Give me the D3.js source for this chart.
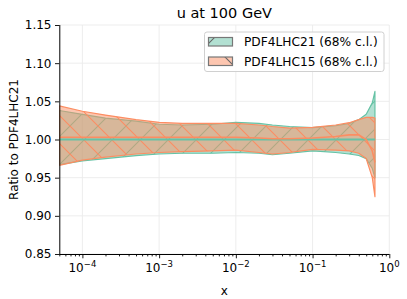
<!DOCTYPE html>
<html>
<head>
<meta charset="utf-8">
<script src="https://cdn.jsdelivr.net/npm/d3@7"></script>
<style>
  body { margin: 0; background: white; }
  text { font-family: "DejaVu Sans", sans-serif; }
</style>
</head>
<body>
<div id="chart"></div>
<script>
// values
var xs    = [5e-5, 1e-4, 2e-4, 5e-4, 1e-3, 2e-3, 5e-3, 1e-2, 2e-2, 3e-2, 5e-2, 0.1, 0.2, 0.3, 0.4, 0.5, 0.6, 0.65];
var hi21  = [1.038, 1.033, 1.028, 1.024, 1.020, 1.019, 1.020, 1.0225, 1.021, 1.019, 1.017, 1.0155, 1.018, 1.021, 1.026, 1.033, 1.048, 1.063];
var lo21  = [0.967, 0.972, 0.975, 0.979, 0.981, 0.982, 0.982, 0.983, 0.982, 0.980, 0.982, 0.985, 0.983, 0.981, 0.979, 0.975, 0.962, 0.950];
var mid21 = [1, 1, 1, 1, 1, 1, 1, 1, 1, 1, 1, 1, 1, 1, 1, 1, 1, 1];
var hi15  = [1.044, 1.037, 1.032, 1.026, 1.0225, 1.021, 1.021, 1.021, 1.019, 1.017, 1.015, 1.016, 1.019, 1.022, 1.026, 1.029, 1.029, 1.028];
var lo15  = [0.966, 0.973, 0.977, 0.981, 0.983, 0.984, 0.985, 0.986, 0.983, 0.981, 0.983, 0.987, 0.986, 0.985, 0.982, 0.975, 0.950, 0.925];
var mid15 = [1.003, 1.003, 1.003, 1.003, 1.003, 1.003, 1.003, 1.003, 1.002, 1.001, 1.001, 1.002, 1.004, 1.006, 1.006, 1.000, 0.985, 0.970];

var yTicks = [0.85, 0.90, 0.95, 1.00, 1.05, 1.10, 1.15];
var xTicks = [1e-4, 1e-3, 1e-2, 1e-1, 1];
var xTickLabels = ["\u22124", "\u22123", "\u22122", "\u22121", "0"];
var seriesNames = ["PDF4LHC21 (68% c.l.)", "PDF4LHC15 (68% c.l.)"];

var green = "#66c2a5", orange = "#fc8d62";

var W = 407, H = 299;
// careful: "top" is taken by window.top
var pL = 59.3, pR = 389.3, pT = 25, pB = 254;

var svg = d3.select("#chart").append("svg")
  .attr("width", W).attr("height", H);

var x = d3.scaleLog().domain([5e-5, 1]).range([pL, pR]);
var y = d3.scaleLinear().domain([0.85, 1.15]).range([pB, pT]);

var defs = svg.append("defs");
defs.append("clipPath").attr("id", "clip")
  .append("rect").attr("x", pL).attr("y", pT)
  .attr("width", pR - pL).attr("height", pB - pT);

// hatch patterns, '/' for 21 and '\' for 15
function hatch(id, color, dir, w) {
  var s = 28;
  var p = defs.append("pattern").attr("id", id)
    .attr("patternUnits", "userSpaceOnUse")
    .attr("width", s).attr("height", s);
  var d = dir == "/" ?
    "M-2,2 L2,-2 M0," + s + " L" + s + ",0 M" + (s - 2) + "," + (s + 2) + " L" + (s + 2) + "," + (s - 2) :
    "M-2," + (s - 2) + " L2," + (s + 2) + " M0,0 L" + s + "," + s + " M" + (s - 2) + ",-2 L" + (s + 2) + ",2";
  p.append("path").attr("d", d).attr("stroke", color).attr("stroke-width", w).attr("fill", "none");
}
hatch("h21", green, "/", 1.1);
hatch("h15", orange, "\\", 1.1);
hatch("h21leg", "#666", "/", 1.1);
hatch("h15leg", "#666", "\\", 1.1);

// grid
svg.append("g").selectAll("line").data(yTicks).join("line")
  .attr("x1", pL).attr("x2", pR)
  .attr("y1", function(d) { return y(d); }).attr("y2", function(d) { return y(d); })
  .attr("stroke", "#ebebeb").attr("stroke-width", 0.9);
svg.append("g").selectAll("line").data(xTicks).join("line")
  .attr("x1", function(d) { return x(d); }).attr("x2", function(d) { return x(d); })
  .attr("y1", pT).attr("y2", pB)
  .attr("stroke", "#ebebeb").attr("stroke-width", 0.9);

var plot = svg.append("g").attr("clip-path", "url(#clip)");

var area = function(lo, hi) {
  return d3.area()
    .x(function(d, i) { return x(xs[i]); })
    .y0(function(d, i) { return y(lo[i]); })
    .y1(function(d, i) { return y(hi[i]); })(xs);
};
var line = function(v) {
  return d3.line()
    .x(function(d, i) { return x(xs[i]); })
    .y(function(d, i) { return y(v[i]); })(xs);
};

// bands
function band(lo, hi, color, pat) {
  var d = area(lo, hi);
  plot.append("path").attr("d", d).attr("fill", color).attr("fill-opacity", 0.5);
  plot.append("path").attr("d", d).attr("fill", "url(#" + pat + ")");
  plot.append("path").attr("d", d).attr("fill", "none")
    .attr("stroke", color).attr("stroke-width", 1.2).attr("stroke-linejoin", "round");
}
band(lo21, hi21, green, "h21");
band(lo15, hi15, orange, "h15");

// central lines
plot.append("path").attr("d", line(mid21)).attr("fill", "none")
  .attr("stroke", green).attr("stroke-width", 2.2);
plot.append("path").attr("d", line(mid15)).attr("fill", "none")
  .attr("stroke", orange).attr("stroke-width", 1.6);

// axes
var yAxis = d3.axisLeft(y).tickValues(yTicks).tickSize(4.3).tickPadding(3.5)
  .tickFormat(d3.format(".2f"));
var gy = svg.append("g").attr("transform", "translate(" + pL + ",0)").call(yAxis);

var minor = [];
for (var e = -5; e < 0; e++) {
  for (var k = 2; k <= 9; k++) {
    var v = k * Math.pow(10, e);
    if (v >= 5e-5 && v <= 1) minor.push(v);
  }
}
var xMinor = d3.axisBottom(x).tickValues(minor).tickSize(2.4).tickFormat("");
var gxm = svg.append("g").attr("transform", "translate(0," + pB + ")").call(xMinor);

var xAxis = d3.axisBottom(x).tickValues(xTicks).tickSize(4.3).tickFormat("");
var gx = svg.append("g").attr("transform", "translate(0," + pB + ")").call(xAxis);

[gy, gx, gxm].forEach(function(g) {
  g.select(".domain").attr("stroke", "#000").attr("stroke-width", 1);
  g.selectAll(".tick line").attr("stroke", "#000").attr("stroke-width", 0.9);
});
gxm.select(".domain").remove();
gy.select(".domain").attr("d", "M0.5," + pB + "V" + pT);
gx.select(".domain").attr("d", "M" + pL + ",0.5H" + pR);
gy.selectAll(".tick text").attr("font-size", 12).attr("fill", "#000")
  .style("font-family", "DejaVu Sans");

// 10^n labels
var xl = svg.append("g");
xTicks.forEach(function(t, i) {
  var tx = xl.append("text").attr("x", x(t)).attr("y", 272)
    .attr("text-anchor", "middle").attr("font-size", 12).attr("fill", "#000");
  tx.append("tspan").text("10");
  tx.append("tspan").attr("dy", -5).attr("font-size", 8.5).text(xTickLabels[i]);
});

// titles
svg.append("text").attr("x", (pL + pR) / 2).attr("y", 18)
  .attr("text-anchor", "middle").attr("font-size", 14.5).text("u at 100 GeV");
svg.append("text").attr("x", (pL + pR) / 2).attr("y", 295)
  .attr("text-anchor", "middle").attr("font-size", 12).text("x");
svg.append("text").attr("transform", "translate(18," + ((pT + pB) / 2) + ") rotate(-90)")
  .attr("text-anchor", "middle").attr("font-size", 12).text("Ratio to PDF4LHC21");

// legend
var lg = svg.append("g");
lg.append("rect").attr("x", 204.5).attr("y", 32).attr("width", 179.5).attr("height", 39.5)
  .attr("rx", 2.5).attr("fill", "white").attr("fill-opacity", 0.85)
  .attr("stroke", "#d0d0d0").attr("stroke-width", 1);
var legCols = [green, orange], legPats = ["h21leg", "h15leg"];
seriesNames.forEach(function(n, i) {
  var yy = 37.5 + i * 19.5;
  lg.append("rect").attr("x", 208.5).attr("y", yy).attr("width", 24).attr("height", 8.5)
    .attr("fill", legCols[i]).attr("fill-opacity", 0.5);
  lg.append("rect").attr("x", 208.5).attr("y", yy).attr("width", 24).attr("height", 8.5)
    .attr("fill", "url(#" + legPats[i] + ")")
    .attr("stroke", "#777").attr("stroke-width", 1.2);
  lg.append("text").attr("x", 244).attr("y", yy + 8.5).attr("font-size", 12.2).text(n);
});
</script>
</body>
</html>
